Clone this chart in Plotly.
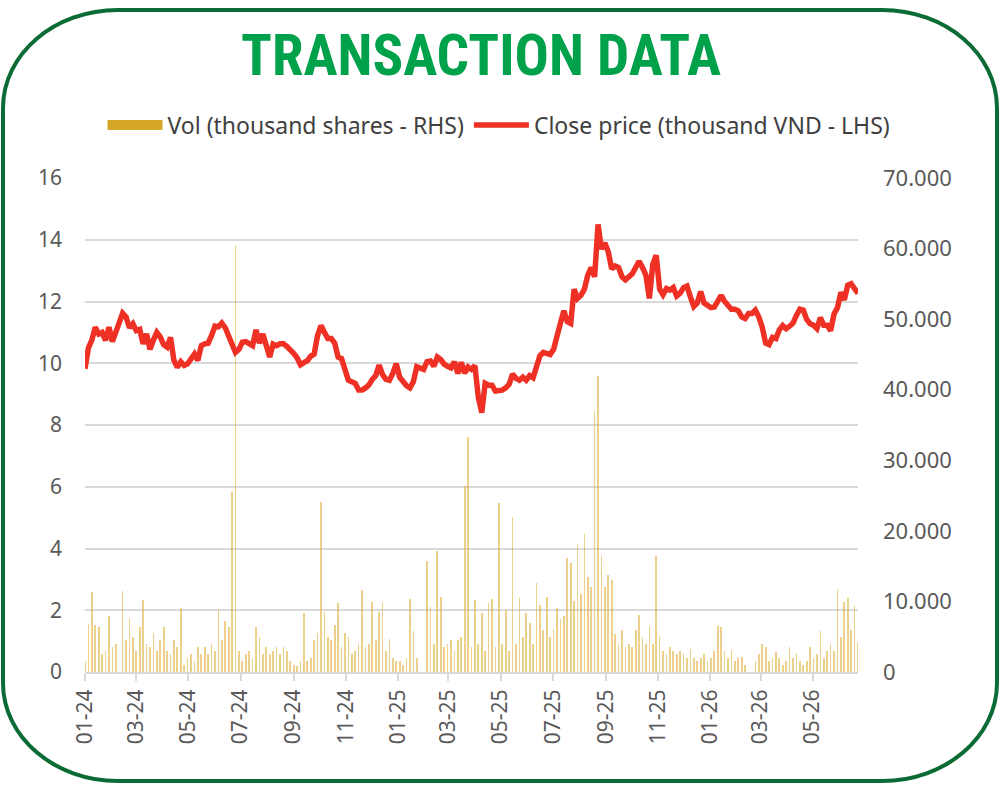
import pandas as pd
import plotly.graph_objects as go

# ---------------- data ----------------
close_price = [
    9.82, 10.5, 10.75, 11.17, 10.95, 11.0, 10.74, 11.17, 10.7, 11.0,
    11.3, 11.62, 11.5, 11.15, 11.28, 11.06, 11.1, 10.63, 10.95, 10.45,
    10.75, 11.0, 10.85, 10.6, 10.52, 10.84, 10.09, 9.87, 10.05, 9.93,
    9.98, 10.15, 10.3, 10.09, 10.57, 10.63, 10.65, 10.9, 11.2, 11.18,
    11.3, 11.15, 10.85, 10.6, 10.35, 10.45, 10.68, 10.7, 10.65, 10.57,
    11.08, 10.65, 10.95, 10.6, 10.2, 10.62, 10.57, 10.63, 10.63, 10.55,
    10.4, 10.32, 10.18, 9.95, 10.02, 10.08, 10.23, 10.3, 10.9, 11.22,
    11.0, 10.8, 10.8, 10.65, 10.2, 10.15, 9.8, 9.45, 9.4, 9.35,
    9.13, 9.13, 9.2, 9.3, 9.48, 9.6, 9.94, 9.63, 9.48, 9.45,
    9.67, 9.99, 9.55, 9.4, 9.27, 9.2, 9.4, 9.89, 9.85, 9.8,
    10.05, 10.07, 9.9, 10.2, 10.12, 9.97, 9.9, 9.85, 10.05, 9.67,
    10.03, 9.68, 9.88, 9.8, 9.92, 8.9, 8.4, 9.35, 9.29, 9.29,
    9.1, 9.1, 9.13, 9.2, 9.32, 9.65, 9.51, 9.45, 9.55, 9.45,
    9.6, 9.53, 9.95, 10.24, 10.35, 10.3, 10.28, 10.45, 10.95, 11.3,
    11.7, 11.35, 11.29, 12.4, 12.1, 12.2, 12.4, 12.85, 13.1, 12.8,
    14.5, 13.7, 13.9, 13.6, 13.05, 13.15, 13.1, 12.8, 12.7, 12.78,
    12.9, 13.1, 13.3, 13.1, 12.85, 12.1, 13.2, 13.5, 12.4, 12.22,
    12.42, 12.37, 12.45, 12.18, 12.27, 12.45, 12.5, 12.15, 11.84, 11.95,
    12.32, 11.95, 11.88, 11.8, 11.82, 12.05, 12.2, 12.0, 11.9, 11.75,
    11.75, 11.7, 11.5, 11.45, 11.61, 11.61, 11.72, 11.5, 11.17, 10.65,
    10.6, 10.84, 10.8, 11.08, 11.22, 11.12, 11.2, 11.3, 11.55, 11.75,
    11.72, 11.42, 11.28, 11.23, 11.12, 11.48, 11.23, 11.23, 11.05, 11.6,
    11.8, 12.3, 12.05, 12.53, 12.58, 12.45, 12.26,
]

volume = [
    1500, 6800, 11300, 6600, 6400, 2500, 3000, 7900, 3500, 4000,
    0, 11500, 4500, 7700, 5000, 3000, 6400, 10200, 4000, 3500,
    5500, 3000, 4500, 6400, 3000, 2500, 4500, 3500, 9100, 1000,
    2000, 2500, 1500, 3500, 2500, 3500, 2500, 4000, 3000, 8750,
    4500, 7200, 6400, 25500, 60500, 3000, 1500, 2500, 3000, 2000,
    6400, 5000, 2500, 3500, 2500, 3000, 3500, 2500, 3500, 3000,
    1500, 1000, 800, 1500, 8400, 1500, 2000, 4500, 5500, 24100,
    8500, 5000, 4500, 6600, 9800, 3500, 5500, 5000, 2500, 3000,
    4000, 11600, 3500, 4000, 9900, 4500, 8500, 9900, 3000, 4700,
    2000, 1500, 1500, 1000, 2000, 10300, 5800, 2000, 0, 0,
    15700, 9200, 4000, 17100, 10600, 3500, 4000, 4500, 3000, 4500,
    5000, 26300, 33300, 3500, 10200, 4000, 8300, 3000, 9800, 10400,
    3500, 24000, 4000, 8750, 3000, 22000, 4000, 10500, 5000, 8300,
    6900, 4000, 12600, 9500, 6000, 10600, 5000, 6100, 9000, 7500,
    8000, 16100, 15400, 10000, 18100, 11100, 19500, 13500, 12000, 37000,
    42000, 16400, 12000, 13700, 13000, 5400, 4000, 5900, 3500, 4000,
    3500, 6000, 8100, 5000, 4000, 6500, 4000, 16400, 5100, 3000,
    2500, 3500, 3000, 2500, 3000, 2500, 2000, 3200, 2000, 1500,
    2000, 2500, 1500, 2000, 3000, 6500, 6400, 3000, 2000, 3100,
    1500, 2000, 2100, 1000, 0, 0, 1500, 2500, 4000, 3500,
    1500, 2000, 2800, 2000, 1000, 1500, 3500, 2000, 2700, 1500,
    1000, 1500, 3500, 2000, 2500, 5800, 2000, 3000, 4000, 3000,
    11800, 5000, 9900, 10500, 6000, 9400, 4300,
]

dates = pd.date_range("2024-01-01", periods=len(close_price), freq="4D")

price_ticks = [0, 2, 4, 6, 8, 10, 12, 14, 16]
vol_ticks = [0, 10000, 20000, 30000, 40000, 50000, 60000, 70000]

TITLE = "TRANSACTION DATA"
VOL_NAME = "Vol (thousand shares - RHS)"
PRICE_NAME = "Close price (thousand VND - LHS)"

# ---------------- styling ----------------
W, H = 1000, 787
GREEN_TXT = "#00A14B"
GREEN_FRAME = "#0B6B35"
RED = "#EE3124"
GOLD = "rgba(222,170,40,0.55)"
GOLD_SOLID = "#D6A82A"
GRID = "#D9D9D9"
TICK_TXT = "#595959"
FONT = "Noto Sans"


def px(x):
    return x / W


def py(y):
    return 1 - y / H


fig = go.Figure()
fig.add_trace(go.Bar(
    x=dates, y=volume, name=VOL_NAME, yaxis="y", showlegend=False,
    marker=dict(color=GOLD, line=dict(width=0)),
    width=2 * 86400000,
))
# legend entry for the volume bars (wide swatch like the reference)
fig.add_trace(go.Scatter(
    x=[None], y=[None], name=VOL_NAME, yaxis="y", mode="lines",
    line=dict(color=GOLD_SOLID, width=12),
))
fig.add_trace(go.Scatter(
    x=dates, y=close_price, name=PRICE_NAME, yaxis="y2", mode="lines",
    line=dict(color=RED, width=5.5),
))

# rounded frame (decorative)
L, R, T, B = 3, 997, 10, 781
rx, ry = 115, 98
k = 0.5523
pts = [
    f"M {px(L + rx)},{py(T)}",
    f"L {px(R - rx)},{py(T)}",
    f"C {px(R - rx + k * rx)},{py(T)} {px(R)},{py(T + ry - k * ry)} {px(R)},{py(T + ry)}",
    f"L {px(R)},{py(B - ry)}",
    f"C {px(R)},{py(B - ry + k * ry)} {px(R - rx + k * rx)},{py(B)} {px(R - rx)},{py(B)}",
    f"L {px(L + rx)},{py(B)}",
    f"C {px(L + rx - k * rx)},{py(B)} {px(L)},{py(B - ry + k * ry)} {px(L)},{py(B - ry)}",
    f"L {px(L)},{py(T + ry)}",
    f"C {px(L)},{py(T + ry - k * ry)} {px(L + rx - k * rx)},{py(T)} {px(L + rx)},{py(T)}",
    "Z",
]
fig.add_shape(type="path", path=" ".join(pts), xref="paper", yref="paper",
              line=dict(color=GREEN_FRAME, width=4), layer="above")

fig.add_annotation(
    text=f"<b>{TITLE}</b>", x=px(481), y=py(55), xref="paper", yref="paper",
    showarrow=False, xanchor="center", yanchor="middle",
    font=dict(family="Liberation Sans Narrow, Roboto Condensed, Arial Narrow, sans-serif",
              size=57, color=GREEN_TXT),
)

x0, x1 = 85, 858
ytop, ybot = 178, 672

fig.update_layout(
    template="none",
    width=W, height=H,
    margin=dict(l=0, r=0, t=0, b=0, pad=0, autoexpand=False),
    paper_bgcolor="white", plot_bgcolor="white",
    separators=",.",
    font=dict(family=FONT, color=TICK_TXT),
    bargap=0,
    showlegend=True,
    legend=dict(orientation="h", x=px(499), xanchor="center", y=py(125), yanchor="middle",
                font=dict(size=23, color="#404040"), bgcolor="rgba(0,0,0,0)",
                itemwidth=55, traceorder="normal", tracegroupgap=0),
    xaxis=dict(
        type="date", domain=[px(x0), px(x1)],
        range=["2024-01-01", "2026-06-23"],
        tick0="2024-01-01", dtick="M2", tickformat="%m-%y", tickangle=-90,
        ticks="outside", ticklen=7, tickwidth=2, tickcolor=GRID,
        showline=True, linecolor=GRID, linewidth=2, showgrid=False, zeroline=False,
        tickfont=dict(size=21, color=TICK_TXT), anchor="y", automargin=False,
    ),
    yaxis=dict(
        domain=[py(ybot), py(ytop)], side="right", range=[0, 70000],
        tickvals=vol_ticks, tickformat=",.0f", showgrid=False, zeroline=False,
        ticks="", showline=False,
        tickfont=dict(size=22, color=TICK_TXT), ticklabelstandoff=24,
        anchor="x", automargin=False,
    ),
    yaxis2=dict(
        overlaying="y", side="left", range=[0, 16], tickvals=price_ticks,
        showgrid=True, gridcolor=GRID, gridwidth=2, zeroline=False,
        ticks="", showline=False,
        tickfont=dict(size=21, color=TICK_TXT), ticklabelstandoff=22,
        anchor="x", automargin=False,
    ),
)

fig.write_html("out.html", config={"displayModeBar": False},
               post_script="document.body.style.margin='0';")
